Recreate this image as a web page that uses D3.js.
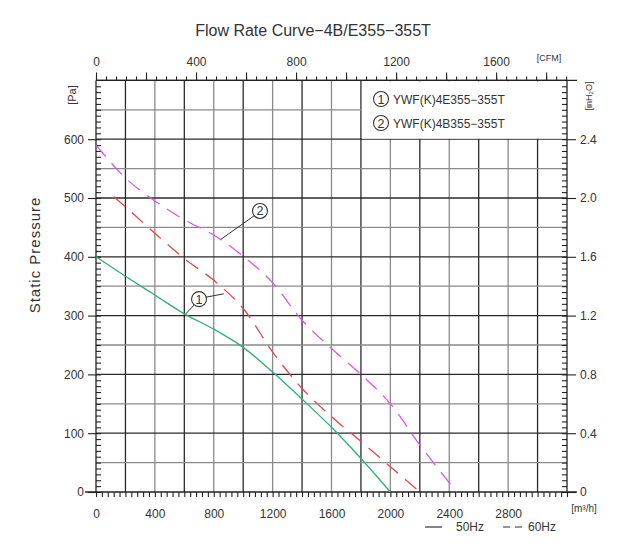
<!DOCTYPE html>
<html>
<head>
<meta charset="utf-8">
<script src="https://cdn.jsdelivr.net/npm/d3@7"></script>
<style>
  body { margin: 0; background: #fff; }
  svg text { font-family: "Liberation Sans", Arial, Helvetica, sans-serif; fill: #333; }
</style>
</head>
<body>
<div id="chart"></div>
<script>
// flow [m3/h] and static pressure [Pa]
const flow50E = [0, 200, 400, 600, 800, 1000, 1200, 1400, 1600, 1800, 2000]
const pres50E = [400, 367, 335, 303, 277, 246, 204, 158, 110, 57, 0]
const flow60E = [120, 200, 400, 600, 800, 1000, 1200, 1400, 1600, 1800, 2000, 2200]
const pres60E = [502, 485, 440, 397, 360, 312, 238, 176, 128, 86, 43, 0]
const flow60B = [0, 200, 400, 600, 800, 1000, 1200, 1400, 1600, 1800, 2000, 2200, 2450]
const pres60B = [590, 534, 495, 463, 437, 401, 356, 292, 244, 200, 150, 80, 0]

const flowLabels = [0, 400, 800, 1200, 1600, 2000, 2400, 2800]
const cfmLabels = [0, 400, 800, 1200, 1600]
const paLabels = [0, 100, 200, 300, 400, 500, 600]
const inLabels = [0, 0.4, 0.8, 1.2, 1.6, 2.0, 2.4]
const legendNames = ["YWF(K)4E355\u2212355T", "YWF(K)4B355\u2212355T"]

const W = 623, H = 556
const svg = d3.select("#chart").append("svg").attr("width", W).attr("height", H)

// scales
const x = d3.scaleLinear().domain([0, 3200]).range([96, 567])
const y = d3.scaleLinear().domain([0, 700]).range([492, 80.4])
const xCfm = d3.scaleLinear().domain([0, 3200 / 1.699]).range([96, 567])
const yIn = d3.scaleLinear().domain([0, 700 / 250]).range([492, 80.4])

// grid
const grid = svg.append("g")
d3.range(200, 3001, 200).forEach((v, i) => {
    grid.append("line")
        .attr("x1", x(v)).attr("x2", x(v))
        .attr("y1", y(0)).attr("y2", y(700))
        .attr("stroke", i % 2 == 0 ? "#2a2a2a" : "#8a8a8a")
        .attr("stroke-width", 1.3)
})
d3.range(50, 701, 50).forEach(v => {
    grid.append("line")
        .attr("x1", x(0)).attr("x2", x(3200))
        .attr("y1", y(v)).attr("y2", y(v))
        .attr("stroke", v % 100 == 0 ? "#2a2a2a" : "#8a8a8a")
        .attr("stroke-width", 1.3)
})

// legend box covers the grid in the upper right
svg.append("rect")
    .attr("x", x(1800) + 1).attr("y", y(700) + 1)
    .attr("width", x(3200) - x(1800) - 1.5).attr("height", y(600) - y(700) - 1.5)
    .attr("fill", "#fff")

// frame lines
svg.append("line").attr("x1", x(0)).attr("x2", x(0)).attr("y1", y(0)).attr("y2", y(700)).attr("stroke", "#222").attr("stroke-width", 1.3)
svg.append("line").attr("x1", x(3200)).attr("x2", x(3200)).attr("y1", y(0)).attr("y2", y(700)).attr("stroke", "#222").attr("stroke-width", 1.3)
svg.append("line").attr("x1", 85).attr("x2", 577).attr("y1", y(0)).attr("y2", y(0)).attr("stroke", "#222").attr("stroke-width", 1.3)
svg.append("line").attr("x1", x(0)).attr("x2", 577).attr("y1", y(700)).attr("y2", y(700)).attr("stroke", "#222").attr("stroke-width", 1.3)

function styleAxis(g) {
    g.select(".domain").remove()
    g.selectAll(".tick line").attr("stroke", "#222").attr("stroke-width", 1.1)
    g.selectAll(".tick text").attr("font-size", 12).attr("fill", "#333")
}
const fmt = d3.format("d")

// bottom minor ticks + labels
svg.append("g").attr("transform", `translate(0,${y(0)})`)
    .call(d3.axisBottom(x).tickValues(d3.range(0, 3201, 40)).tickSize(5).tickFormat(""))
    .call(styleAxis)
svg.append("g").attr("transform", `translate(0,${y(0)})`)
    .call(d3.axisBottom(x).tickValues(flowLabels).tickSize(0).tickPadding(17).tickFormat(fmt))
    .call(styleAxis)

// top CFM axis
svg.append("g").attr("transform", `translate(0,${y(700)})`)
    .call(d3.axisTop(xCfm).tickValues(d3.range(0, 1881, 40)).tickSize(4).tickFormat(""))
    .call(styleAxis)
svg.append("g").attr("transform", `translate(0,${y(700)})`)
    .call(d3.axisTop(xCfm).tickValues(d3.range(0, 1881, 200)).tickSize(8).tickFormat(""))
    .call(styleAxis)
svg.append("g").attr("transform", `translate(0,${y(700)})`)
    .call(d3.axisTop(xCfm).tickValues(cfmLabels).tickSize(0).tickPadding(14).tickFormat(fmt))
    .call(styleAxis)

// left Pa axis: minor ticks inside, major ticks outside
svg.append("g").attr("transform", `translate(${x(0)},0)`)
    .call(d3.axisRight(y).tickValues(d3.range(0, 691, 10)).tickSize(5).tickFormat(""))
    .call(styleAxis)
svg.append("g").attr("transform", `translate(${x(0)},0)`)
    .call(d3.axisLeft(y).tickValues(paLabels).tickSize(8).tickPadding(4).tickFormat(fmt))
    .call(styleAxis)

// right inH2O axis
svg.append("g").attr("transform", `translate(${x(3200)},0)`)
    .call(d3.axisLeft(yIn).tickValues(d3.range(0, 2.77, 0.04)).tickSize(5).tickFormat(""))
    .call(styleAxis)
svg.append("g").attr("transform", `translate(${x(3200)},0)`)
    .call(d3.axisRight(yIn).tickValues(inLabels).tickSize(9).tickPadding(4).tickFormat(d => d == 0 ? "0" : d3.format(".1f")(d)))
    .call(styleAxis)

// curves
const line = d3.line().x(d => x(d[0])).y(d => y(d[1])).curve(d3.curveCatmullRom.alpha(0.5))
const curves = [
    { f: flow50E, p: pres50E, color: "#2fae7c", dash: null },
    { f: flow60E, p: pres60E, color: "#e2474c", dash: "15,9" },
    { f: flow60B, p: pres60B, color: "#dd55e6", dash: "15,9" }
]
curves.forEach(c => {
    svg.append("path")
        .datum(d3.zip(c.f, c.p))
        .attr("d", line)
        .attr("fill", "none")
        .attr("stroke", c.color)
        .attr("stroke-width", 1.3)
        .attr("stroke-dasharray", c.dash)
})

// circled number markers
function marker(cx, cy, num) {
    svg.append("circle").attr("cx", cx).attr("cy", cy).attr("r", 7.5)
        .attr("fill", "#fff").attr("stroke", "#333").attr("stroke-width", 1.1)
    svg.append("text").attr("x", cx).attr("y", cy + 4.5)
        .attr("text-anchor", "middle").attr("font-size", 12.5).text(num)
}
function leader(x1, y1, x2, y2) {
    svg.append("line").attr("x1", x1).attr("y1", y1).attr("x2", x2).attr("y2", y2)
        .attr("stroke", "#333").attr("stroke-width", 1)
}
// annotation (1): green and red curves
leader(x(700) - 5, y(328) + 6, x(610), y(303))
leader(x(700) + 7, y(328) - 2, x(868), y(337))
marker(x(700), y(328), "1")
// annotation (2): magenta curve
leader(x(1114) - 6, y(478) + 5, x(850), y(430))
marker(x(1114), y(478), "2")

// legend text
legendNames.forEach((name, i) => {
    const ly = 100 + i * 24
    marker(381, ly - 1, String(i + 1))
    svg.append("text").attr("x", 393).attr("y", ly + 4).attr("font-size", 12).text(name)
})

// titles and units
svg.append("text").attr("x", 313).attr("y", 36).attr("text-anchor", "middle")
    .attr("font-size", 16).attr("fill", "#3a3a3a").text("Flow Rate Curve\u22124B/E355\u2212355T")
svg.append("text").attr("transform", "translate(40,255) rotate(-90)").attr("text-anchor", "middle")
    .attr("font-size", 15).attr("letter-spacing", 1).attr("fill", "#444").text("Static  Pressure")
svg.append("text").attr("transform", "translate(76,95) rotate(-90)").attr("text-anchor", "middle")
    .attr("font-size", 11).text("[Pa]")
svg.append("text").attr("transform", "translate(592,96) rotate(-90)").attr("text-anchor", "middle")
    .attr("font-size", 9).text("[inH\u2082O]")
svg.append("text").attr("x", 549).attr("y", 61).attr("text-anchor", "middle")
    .attr("font-size", 9).text("[CFM]")
svg.append("text").attr("x", 584).attr("y", 512).attr("text-anchor", "middle")
    .attr("font-size", 10).text("[m\u00b3/h]")

// frequency legend
svg.append("line").attr("x1", 425).attr("x2", 442).attr("y1", 527).attr("y2", 527).attr("stroke", "#333").attr("stroke-width", 1.2)
svg.append("text").attr("x", 456).attr("y", 531).attr("font-size", 12).text("50Hz")
svg.append("line").attr("x1", 503).attr("x2", 522).attr("y1", 527).attr("y2", 527).attr("stroke", "#333").attr("stroke-width", 1.2).attr("stroke-dasharray", "7,5")
svg.append("text").attr("x", 528).attr("y", 531).attr("font-size", 12).text("60Hz")
</script>
</body>
</html>
